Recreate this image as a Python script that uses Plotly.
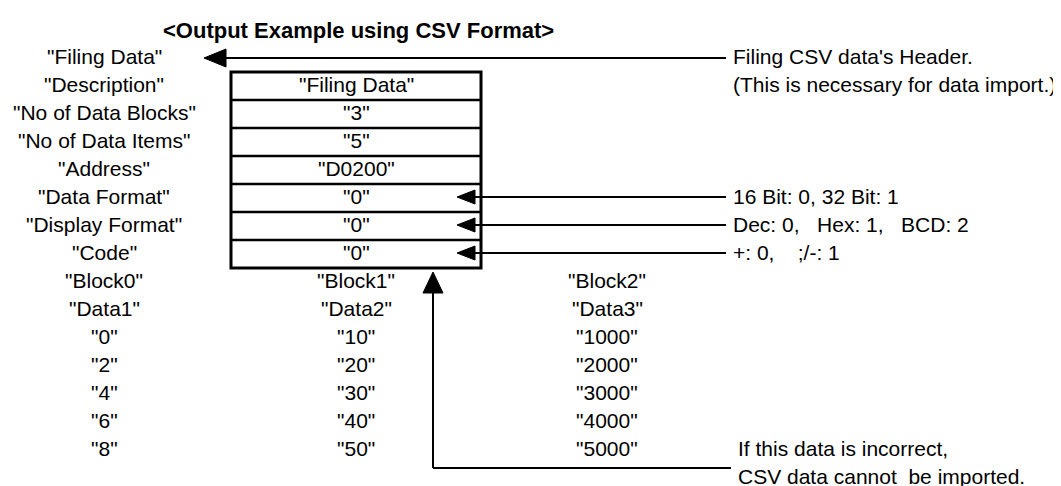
import plotly.graph_objects as go

# ---------------- data ----------------
title_text = "<Output Example using CSV Format>"
header_labels = ['"Filing Data"', '"Description"', '"No of Data Blocks"', '"No of Data Items"',
                 '"Address"', '"Data Format"', '"Display Format"', '"Code"']
box_values = ['"Filing Data"', '"3"', '"5"', '"D0200"', '"0"', '"0"', '"0"']
block_names = ['"Block0"', '"Block1"', '"Block2"']
data_names = ['"Data1"', '"Data2"', '"Data3"']
block0_values = ['"0"', '"2"', '"4"', '"6"', '"8"']
block1_values = ['"10"', '"20"', '"30"', '"40"', '"50"']
block2_values = ['"1000"', '"2000"', '"3000"', '"4000"', '"5000"']
header_note = ["Filing CSV data's Header.", "(This is necessary for data import.)"]
format_notes = ["16 Bit: 0, 32 Bit: 1",
                "Dec: 0,\u00a0\u00a0 Hex: 1,\u00a0\u00a0 BCD: 2",
                "+: 0,\u00a0\u00a0\u00a0 ;/-: 1"]
bottom_note = ["If this data is incorrect,", "CSV data cannot\u00a0 be imported."]

# ---------------- layout constants ----------------
W, H = 1061, 486
Y0, ROW_H = 48, 28
COL_X = [96, 348, 599]
BOX_L, BOX_R = 223, 473
NOTE_X = 723
LINE_END = 718
FONT = "Liberation Sans Narrow, Arial Narrow, Liberation Sans, Arial, sans-serif"
FS = 21


def ry(i):
    return Y0 + ROW_H * i


annotations = []
shapes = []


def text(x, y, s, anchor="center", bold=False, size=FS):
    annotations.append(dict(x=x, y=y, xref="x", yref="y", text=("<b>%s</b>" % s) if bold else s,
                            showarrow=False, xanchor=anchor, yanchor="middle",
                            font=dict(family=FONT, size=size, color="black")))


def line(x0, y0, x1, y1, w=2):
    shapes.append(dict(type="line", x0=x0, y0=y0, x1=x1, y1=y1, xref="x", yref="y",
                       line=dict(color="black", width=w)))


def tri_left(tipx, y, length, half):
    shapes.append(dict(type="path", xref="x", yref="y",
                       path="M %s,%s L %s,%s L %s,%s Z" % (tipx, y, tipx + length, y - half, tipx + length, y + half),
                       fillcolor="black", line=dict(color="black", width=1)))


def tri_up(x, tipy, length, half):
    shapes.append(dict(type="path", xref="x", yref="y",
                       path="M %s,%s L %s,%s L %s,%s Z" % (x, tipy, x - half, tipy + length, x + half, tipy + length),
                       fillcolor="black", line=dict(color="black", width=1)))


# title
text(153, 22, title_text, anchor="left", bold=True, size=22)

# column 0 labels (header rows)
for i, s in enumerate(header_labels):
    text(COL_X[0], ry(i), s)

# box
box_top = ry(0) + 16
box_bottom = ry(len(box_values)) + 16
for k in range(1, len(box_values)):
    line(BOX_L, ry(k) + 16, BOX_R, ry(k) + 16, w=2.5)
shapes.append(dict(type="rect", x0=BOX_L, y0=box_top, x1=BOX_R, y1=box_bottom, xref="x", yref="y",
                   line=dict(color="black", width=3)))
for k, s in enumerate(box_values):
    text(COL_X[1], ry(k + 1), s)

# block rows
cols = [block0_values, block1_values, block2_values]
for c in range(3):
    text(COL_X[c], ry(8), block_names[c])
    text(COL_X[c], ry(9), data_names[c])
    for j, v in enumerate(cols[c]):
        text(COL_X[c], ry(10 + j), v)

# header arrow + note
line(215, ry(0) + 2, LINE_END, ry(0) + 2, w=1.8)
tri_left(196, ry(0) + 2, 22, 9)
text(NOTE_X, ry(0), header_note[0], anchor="left")
text(NOTE_X, ry(1), header_note[1], anchor="left")

# format arrows + notes
for k, s in enumerate(format_notes):
    yy = ry(5 + k) + 1
    line(465, yy, LINE_END, yy, w=1.8)
    tri_left(449, yy, 18, 7)
    text(NOTE_X, ry(5 + k), s, anchor="left")

# vertical arrow from bottom note
vx = 425
tip_y = box_bottom + 4
bottom_y = ry(14) + 20
line(vx, tip_y + 18, vx, bottom_y, w=2)
line(vx, bottom_y, 723, bottom_y, w=2)
tri_up(vx, tip_y, 21, 10)
text(NOTE_X + 5, ry(14), bottom_note[0], anchor="left")
text(NOTE_X + 5, ry(15), bottom_note[1], anchor="left")

fig = go.Figure()
fig.update_layout(
    width=W, height=H,
    margin=dict(l=0, r=0, t=0, b=0),
    paper_bgcolor="white", plot_bgcolor="white",
    xaxis=dict(range=[0, W], visible=False, fixedrange=True),
    yaxis=dict(range=[H, 0], visible=False, fixedrange=True),
    annotations=annotations,
    shapes=shapes,
    showlegend=False,
)
fig.write_html("out.html", config={"displayModeBar": False})
